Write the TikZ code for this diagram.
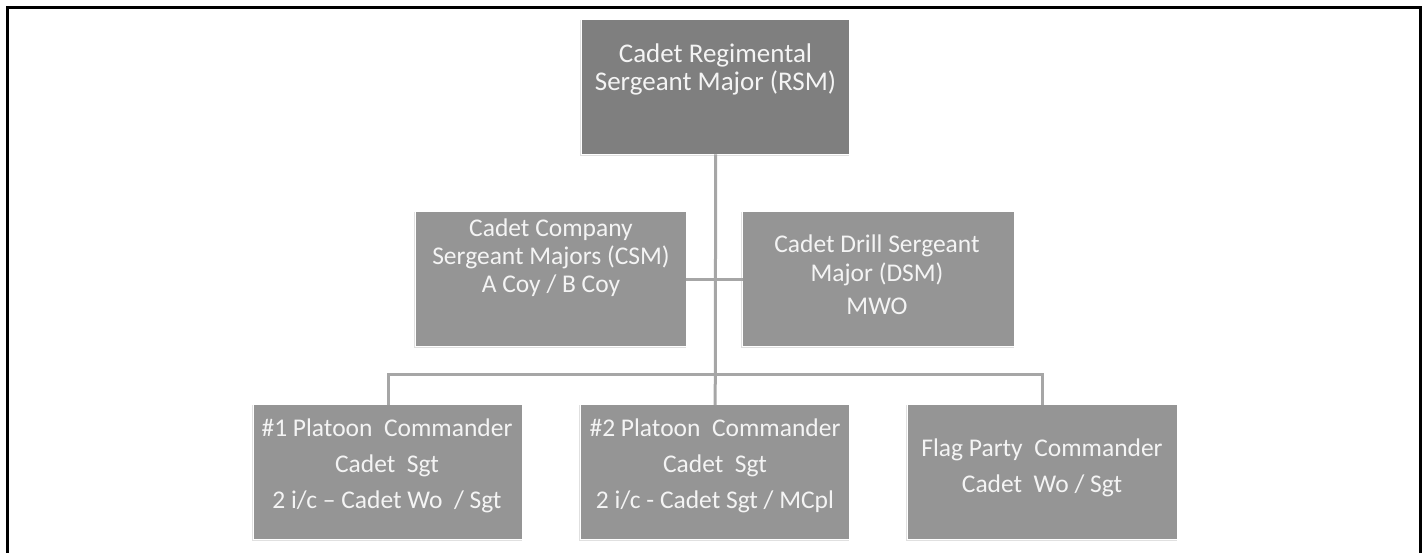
\documentclass[tikz,border=0pt]{standalone}
\usepackage{fontspec}
\setmainfont{Carlito}
\definecolor{topfill}{HTML}{7F7F7F}
\definecolor{boxfill}{HTML}{959595}
\definecolor{linkgray}{HTML}{A6A6A6}
\definecolor{boxtext}{HTML}{F4F4F4}
\begin{document}
\begin{tikzpicture}[x=1pt,y=-1pt,
  orgbox/.style={rectangle, draw=none, fill=boxfill, inner sep=0pt,
    minimum width=#1, minimum height=134pt, anchor=north west},
  orgbox/.default=270pt,
  edgeshade/.style={draw=black!12, line width=0.8pt},
  boxlabel/.style={anchor=north, inner sep=0pt, align=center, text=boxtext},
  link/.style={draw=linkgray, line width=3pt}]
\useasboundingbox (0,0) rectangle (1427,553);

% outer frame
\draw[line width=3pt, black] (7,560) -- (7,8) -- (1420,8) -- (1420,560);

% faint edge shading behind the boxes
\foreach \x/\y/\w in {582/20/267, 416/212/270, 743/212/271, 254/405/268, 581/405/268, 908/405/269}
  \draw[edgeshade] (\x-1.5,\y) -- (\x-1.5,\y+135.5) -- (\x+\w,\y+135.5);

% boxes
\node[orgbox=267pt, fill=topfill] (rsm) at (582,20) {};
\node[orgbox=270pt] (csm) at (416,212) {};
\node[orgbox=271pt] (dsm) at (743,212) {};
\node[orgbox=268pt] (pl1) at (254,405) {};
\node[orgbox=268pt] (pl2) at (581,405) {};
\node[orgbox=269pt] (flag) at (908,405) {};

% connectors
\coordinate (bus) at (715,374);
\draw[link] (rsm.south) -- (pl2.north);
\draw[link] (csm.east) -- (dsm.west);
\draw[link] (pl1.north) |- (bus) -| (flag.north);

% labels
\node[boxlabel, font=\fontsize{27}{28}\selectfont] (trsm) at (715.5,44)
  {Cadet Regimental\\Sergeant Major (RSM)};
\node[boxlabel, font=\fontsize{25.5}{28}\selectfont] (tcsm) at (551,219)
  {Cadet Company\\Sergeant Majors (CSM)\\A Coy / B Coy};
\node[boxlabel, font=\fontsize{25.5}{29}\selectfont] (tdsm) at (877,235)
  {Cadet Drill Sergeant\\Major (DSM)\\[4pt]MWO};
\node[boxlabel, font=\fontsize{25.5}{36}\selectfont] (tpl1) at (387,419)
  {\#1 Platoon\ \ Commander\\Cadet\ \ Sgt\\2 i/c -- Cadet Wo\ \ / Sgt};
\node[boxlabel, font=\fontsize{25.5}{36}\selectfont] (tpl2) at (715,419)
  {\#2 Platoon\ \ Commander\\Cadet\ \ Sgt\\2 i/c - Cadet Sgt / MCpl};
\node[boxlabel, font=\fontsize{25.5}{36}\selectfont] (tflag) at (1042,439)
  {Flag Party\ \ Commander\\Cadet\ \ Wo / Sgt};
\end{tikzpicture}
\end{document}
